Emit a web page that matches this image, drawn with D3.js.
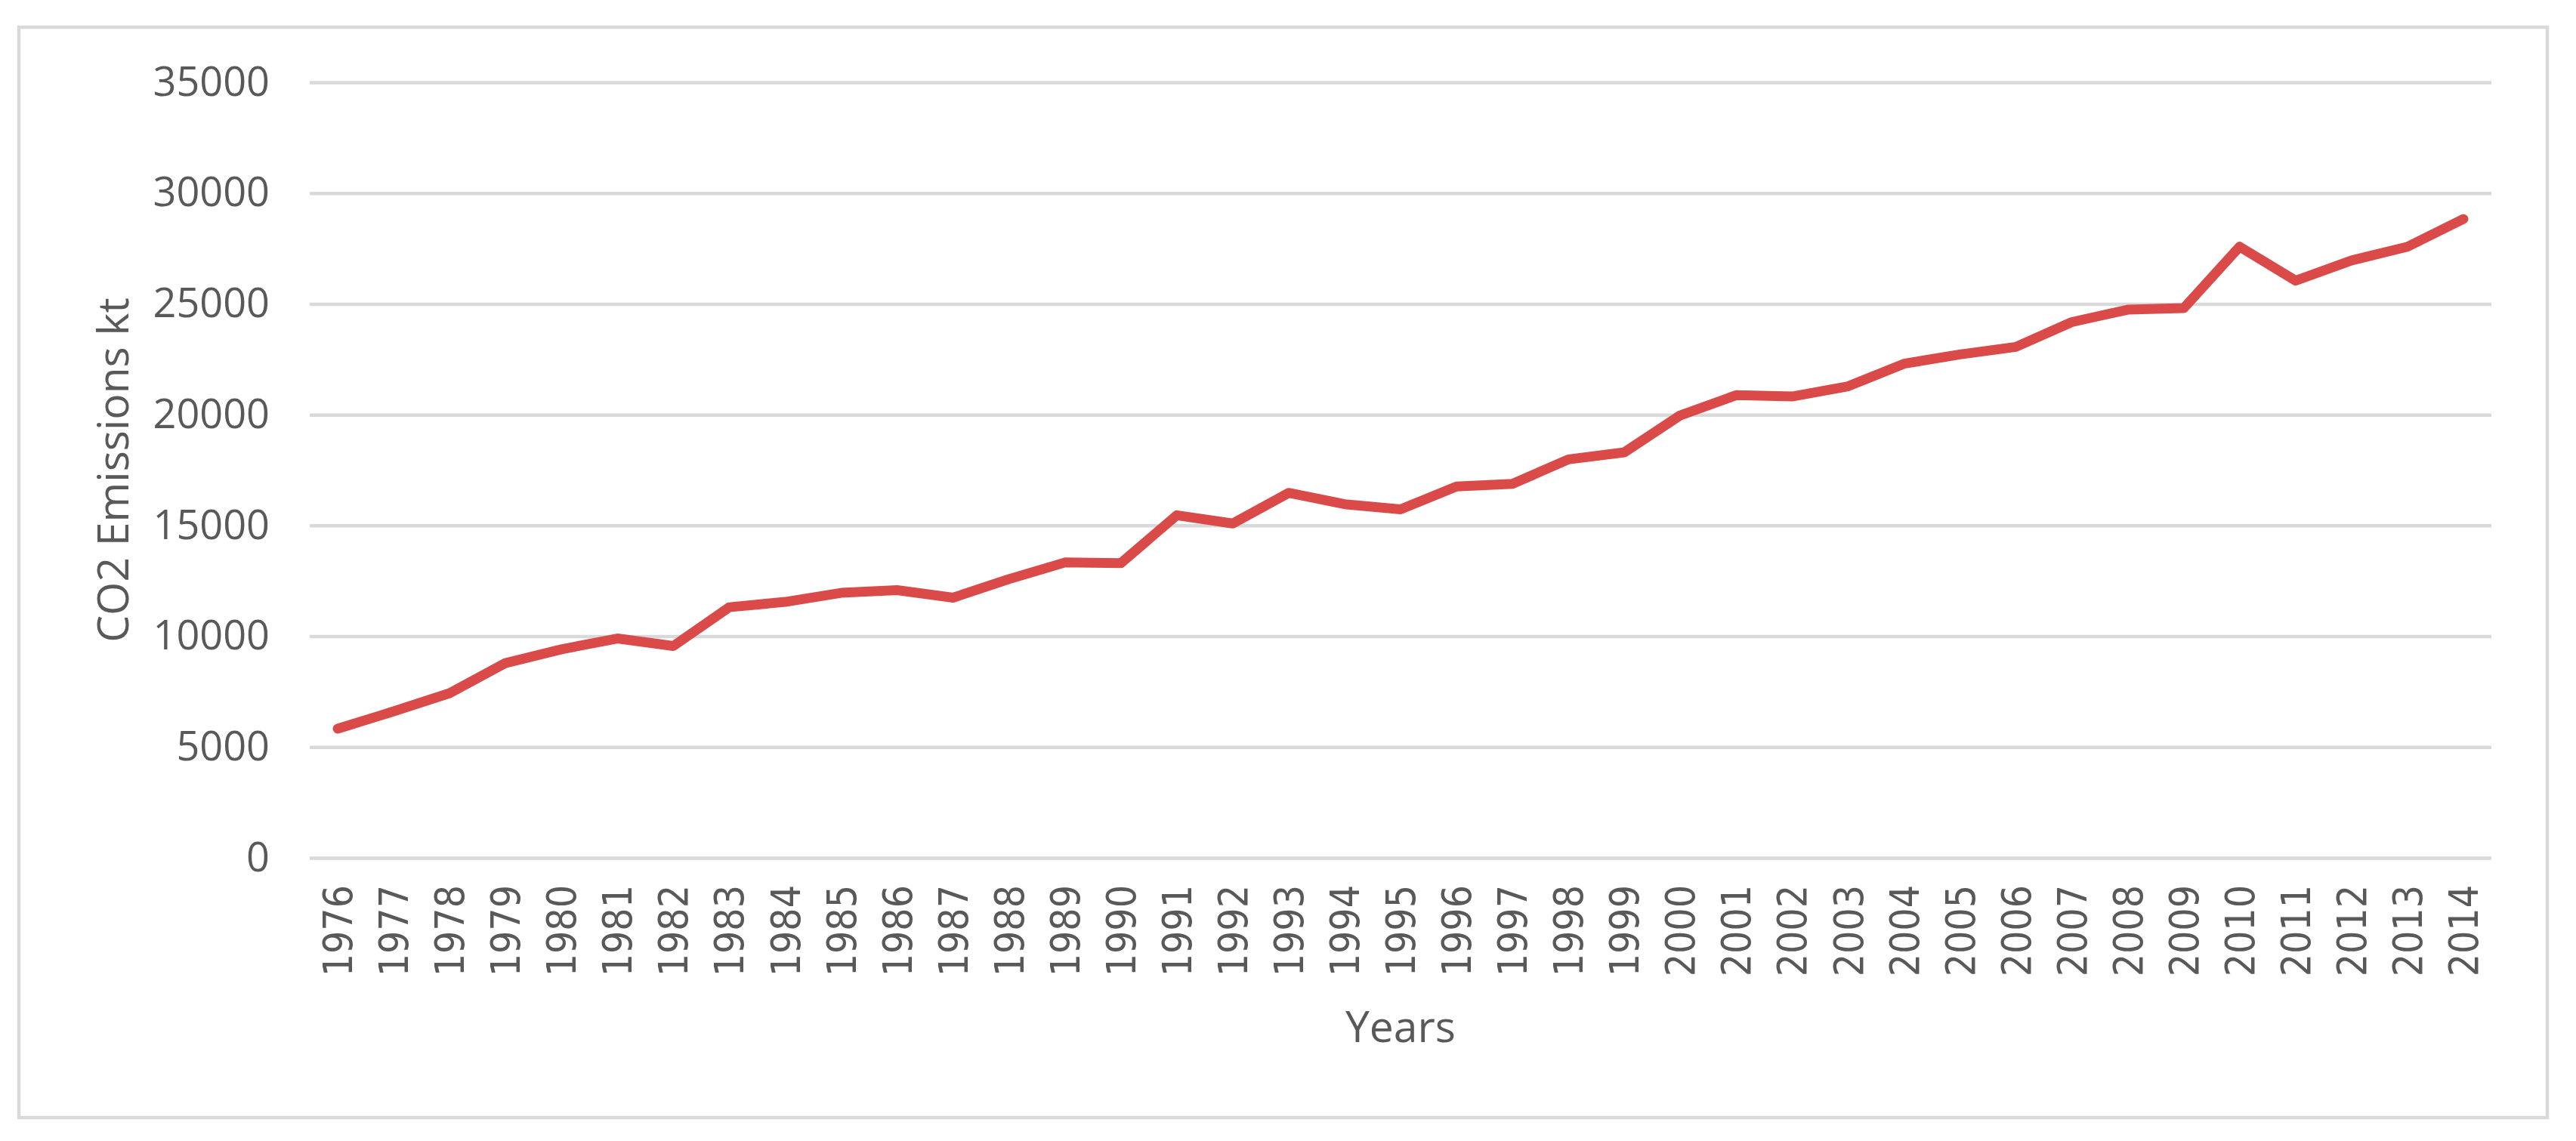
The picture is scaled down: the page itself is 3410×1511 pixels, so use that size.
<!DOCTYPE html>
<html>
<head>
<meta charset="utf-8">
<script src="https://cdn.jsdelivr.net/npm/d3@7"></script>
<style>
  html, body { margin: 0; padding: 0; background: #ffffff; }
  svg { display: block; }
</style>
</head>
<body>
<svg id="chart" width="3410" height="1511"></svg>
<script>
// ---- Data ----
const years = [1976,1977,1978,1979,1980,1981,1982,1983,1984,1985,1986,1987,1988,1989,1990,
               1991,1992,1993,1994,1995,1996,1997,1998,1999,2000,2001,2002,2003,2004,2005,
               2006,2007,2008,2009,2010,2011,2012,2013,2014];
const emissions = [5830,6610,7430,8790,9410,9900,9560,11310,11550,11960,12080,11740,12580,13330,13300,
                   15460,15090,16470,15960,15730,16760,16880,17980,18300,19970,20880,20820,21280,22300,22720,
                   23060,24180,24740,24810,27580,26050,26960,27580,28830];
const yTicks = [0,5000,10000,15000,20000,25000,30000,35000];
const xTitle = "Years";
const yTitle = "CO2 Emissions kt";

// ---- Layout ----
const W = 3410, H = 1511;
const plotLeft = 410, plotRight = 3298, plotTop = 109, plotBottom = 1136;

const svg = d3.select("#chart");
svg.append("rect").attr("x",0).attr("y",0).attr("width",W).attr("height",H).attr("fill","#ffffff");

// outer chart border
svg.append("rect")
  .attr("x",25).attr("y",36).attr("width",3347).attr("height",1444)
  .attr("fill","none").attr("stroke","#d9d9d9").attr("stroke-width",4.5);

const x = d3.scaleBand().domain(years).range([plotLeft, plotRight]).padding(0);
const y = d3.scaleLinear().domain([0,35000]).range([plotBottom, plotTop]);

// y axis with gridlines
const yAxis = svg.append("g")
  .attr("transform",`translate(${plotLeft},0)`)
  .call(d3.axisLeft(y).tickValues(yTicks).tickSize(-(plotRight-plotLeft)).tickPadding(53).tickFormat(d3.format("d")));
yAxis.select(".domain").remove();
yAxis.selectAll(".tick line").attr("stroke","#d9d9d9").attr("stroke-width",4.5);
yAxis.selectAll(".tick text")
  .attr("fill","#595959")
  .style("font-family","'Open Sans', 'Noto Sans', sans-serif")
  .style("font-size","54px");

// x axis labels (rotated)
const xAxis = svg.append("g")
  .attr("transform",`translate(0,${plotBottom})`)
  .call(d3.axisBottom(x).tickSize(0).tickPadding(0));
xAxis.select(".domain").remove();
xAxis.selectAll(".tick text")
  .attr("transform","rotate(-90)")
  .attr("text-anchor","end")
  .attr("x",-36).attr("y",0).attr("dy","0.36em")
  .attr("fill","#595959")
  .style("font-family","'DejaVu Sans Condensed', 'DejaVu Sans', sans-serif")
  .style("font-stretch","condensed")
  .style("font-size","53px");

// line
const line = d3.line()
  .x((d,i) => x(years[i]) + x.bandwidth()/2)
  .y(d => y(d));
svg.append("path")
  .datum(emissions)
  .attr("d", line)
  .attr("fill","none")
  .attr("stroke","#d94a48")
  .attr("stroke-width",13)
  .attr("stroke-linejoin","round")
  .attr("stroke-linecap","round");

// axis titles
svg.append("text")
  .attr("x",(plotLeft+plotRight)/2).attr("y",1380)
  .attr("text-anchor","middle")
  .attr("fill","#595959")
  .style("font-family","'Open Sans', 'Noto Sans', sans-serif")
  .style("font-size","57px")
  .text(xTitle);

svg.append("text")
  .attr("transform",`translate(149,${(plotTop+plotBottom)/2}) rotate(-90)`)
  .attr("text-anchor","middle")
  .attr("dy","0.36em")
  .attr("fill","#595959")
  .style("font-family","'Open Sans', 'Noto Sans', sans-serif")
  .style("font-size","57px")
  .text(yTitle);
</script>
</body>
</html>
